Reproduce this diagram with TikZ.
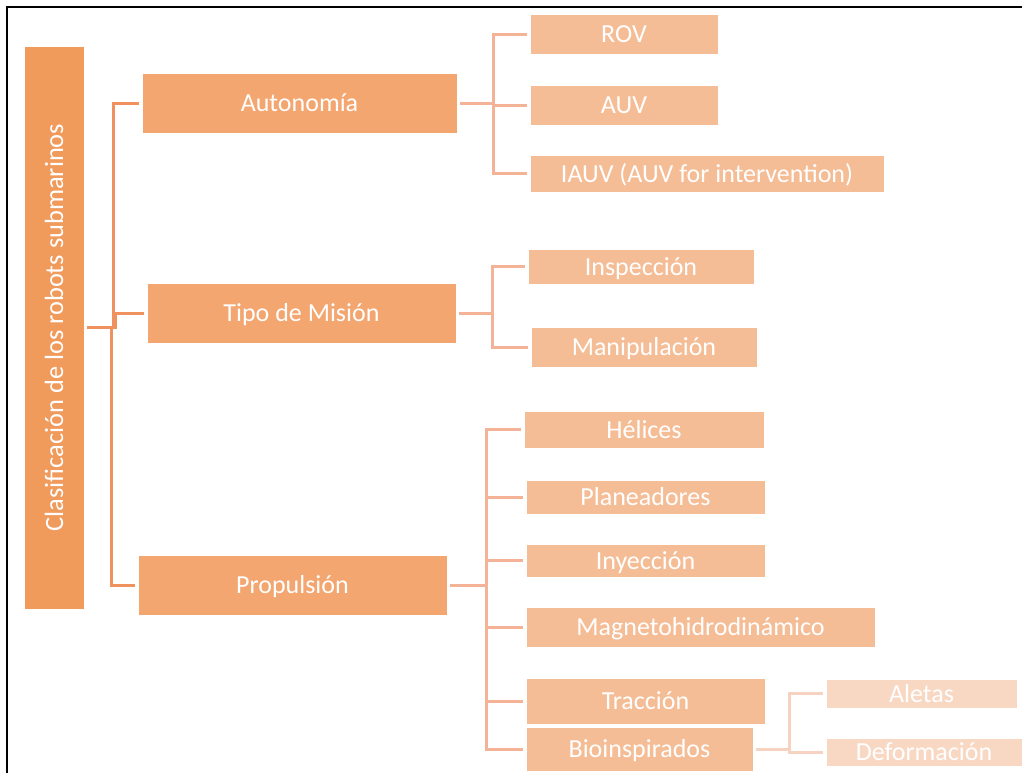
\documentclass[tikz,border=0pt]{standalone}
\usepackage{fontspec}
\setmainfont{Carlito}
\usepackage{graphicx}
\definecolor{rootc}{RGB}{240,154,92}
\definecolor{lvone}{RGB}{243,166,112}
\definecolor{lvtwo}{RGB}{245,189,150}
\definecolor{lvthree}{RGB}{249,216,195}
\definecolor{cone}{RGB}{240,146,96}
\definecolor{ctwo}{RGB}{244,178,150}
\definecolor{cthree}{RGB}{248,210,192}
\tikzset{
  bx/.style={draw=white, line width=0.6pt, inner sep=0pt, text=white,
    font=\fontsize{19.5pt}{22pt}\selectfont, text height=16.8pt, text depth=3.8pt},
  rootbox/.style={draw=white, line width=0.6pt, inner sep=0pt, text=white,
    font=\fontsize{19.8pt}{22pt}\selectfont, fill=rootc},
  lone/.style={bx, fill=lvone},
  ltwo/.style={bx, fill=lvtwo},
  lthree/.style={bx, fill=lvthree},
  kone/.style={draw=cone, line width=2.25pt},
  ktwo/.style={draw=ctwo, line width=2.25pt},
  kthree/.style={draw=cthree, line width=2.25pt},
}
\begin{document}
\begin{tikzpicture}[x=0.75pt, y=-0.75pt]
\useasboundingbox (0,0) rectangle (1022,772);
\fill[white] (0,0) rectangle (1022,772);
\draw[line width=1.5pt, black] (7,790) -- (7,7) -- (1040,7);

% root
\node[rootbox, minimum width=45pt, minimum height=422.25pt] (root) at (54,327.5)
  {\rotatebox{90}{Clasificación de los robots submarinos}};

% level 1
\node[lone, minimum width=236.25pt, minimum height=45pt] (aut) at (299.5,103) {Autonomía};
\node[lone, minimum width=231.75pt, minimum height=45pt] (tipo) at (301.5,313) {Tipo de Misión};
\node[lone, minimum width=231.75pt, minimum height=45pt] (prop) at (292.5,585) {Propulsión};

% level 2
\node[ltwo, minimum width=141pt, minimum height=30pt] (rov) at (624,34) {ROV};
\node[ltwo, minimum width=141pt, minimum height=30pt] (auv) at (624,105) {AUV};
\node[ltwo, minimum width=265.5pt, minimum height=27.75pt] (iauv) at (707,173.5) {IAUV (AUV for intervention)};
\node[ltwo, minimum width=169.5pt, minimum height=26.25pt] (insp) at (641,266.5) {Inspección};
\node[ltwo, minimum width=169.5pt, minimum height=30pt] (mani) at (644,347) {Manipulación};
\node[ltwo, minimum width=180pt, minimum height=27.75pt] (hel) at (644,429.5) {Hélices};
\node[ltwo, minimum width=179.25pt, minimum height=25.5pt] (plan) at (645.5,497) {Planeadores};
\node[ltwo, minimum width=179.25pt, minimum height=24.75pt] (iny) at (645.5,560.5) {Inyección};
\node[ltwo, minimum width=261.75pt, minimum height=30pt] (mag) at (700.5,627) {Magnetohidrodinámico};
\node[ltwo, minimum width=179.25pt, minimum height=34.5pt] (trac) at (645.5,701) {Tracción};
\node[ltwo, minimum width=170.25pt, minimum height=33pt] (bio) at (639.5,749) {Bioinspirados};

% level 3
\node[lthree, minimum width=143.25pt, minimum height=21.75pt] (alet) at (921.5,693.5) {Aletas};
\node[lthree, minimum width=147pt, minimum height=21pt] (def) at (924,752) {Deformación};

% connectors level 1
\draw[kone] ([xshift=2.25pt]root.east) -- ++(26,0) |- ([xshift=-2.25pt]aut.west);
\draw[kone] ([xshift=2.25pt]root.east) -- ++(28,0) |- ([xshift=-2.25pt]tipo.west);
\draw[kone] ([xshift=2.25pt]root.east) -- ++(24,0) |- ([xshift=-2.25pt]prop.west);

% connectors level 2
\foreach \c in {rov,auv,iauv}
  \draw[ktwo] ([xshift=2.25pt]aut.east) -- ++(33,0) |- ([xshift=-2.25pt]\c.west);
\foreach \c in {insp,mani}
  \draw[ktwo] ([xshift=2.25pt]tipo.east) -- ++(33,0) |- ([xshift=-2.25pt]\c.west);
\foreach \c in {hel,plan,iny,mag,trac,bio}
  \draw[ktwo] ([xshift=2.25pt]prop.east) -- ++(36,0) |- ([xshift=-2.25pt]\c.west);

% connectors level 3
\foreach \c in {alet,def}
  \draw[kthree] ([xshift=2.25pt]bio.east) -- ++(33,0) |- ([xshift=-2.25pt]\c.west);
\end{tikzpicture}
\end{document}
